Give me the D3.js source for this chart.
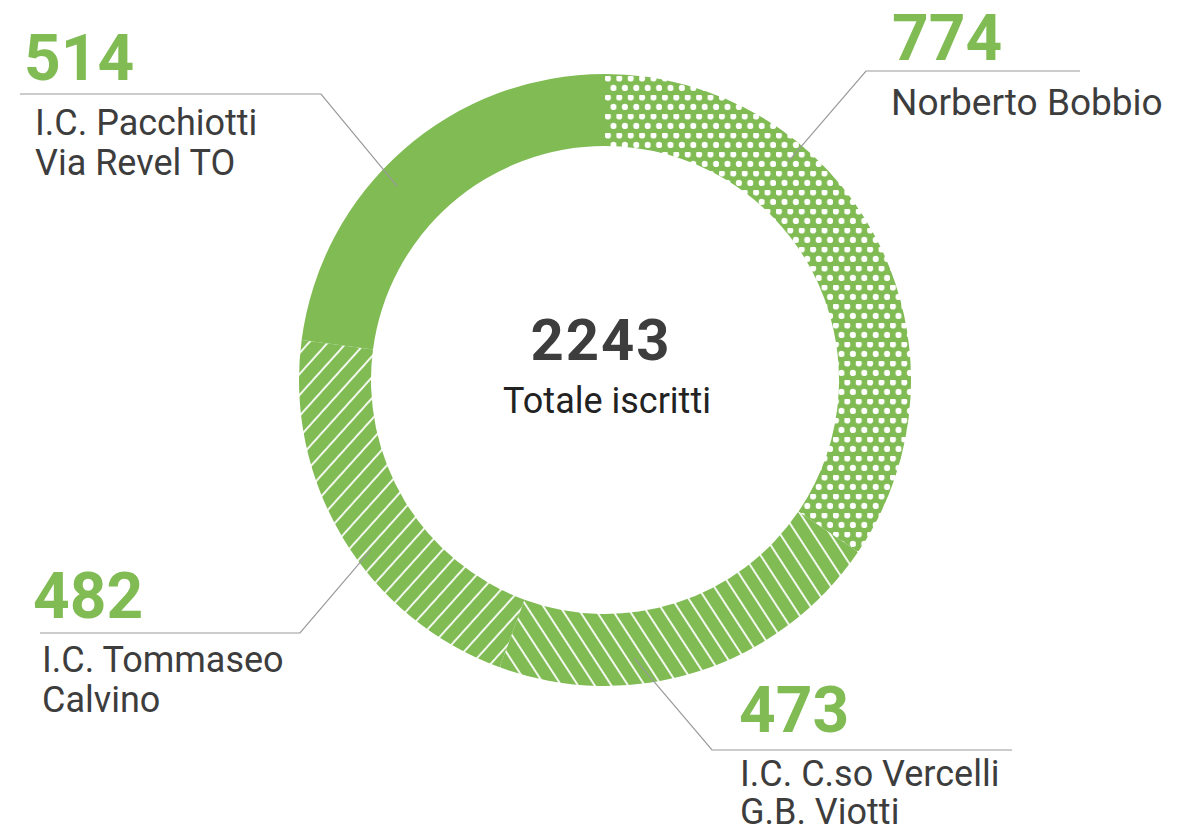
<!DOCTYPE html>
<html>
<head>
<meta charset="utf-8">
<script src="https://cdn.jsdelivr.net/npm/d3@7"></script>
<style>
  body { margin: 0; background: #fff; }
  text { font-family: Roboto, "Noto Sans", sans-serif; }
</style>
</head>
<body>
<script>
// data (clockwise from 12 o'clock)
var schools = ["Norberto Bobbio", "I.C. C.so Vercelli", "I.C. Tommaseo", "I.C. Pacchiotti"];
var labelLines = [
    ["Norberto Bobbio"],
    ["I.C. C.so Vercelli", "G.B. Viotti"],
    ["I.C. Tommaseo", "Calvino"],
    ["I.C. Pacchiotti", "Via Revel TO"]];
var students = [774, 473, 482, 514];
var totalLabel = "Totale iscritti";

var green = "#80bb54";
var textDark = "#3d3d3d";
var fills = ["url(#dots)", "url(#hatchBack)", "url(#hatchFwd)", green];

// label placement: number position, elbow of the leader line, where the line ends
var layout = [
    { nx: 892, ny: 60,  tx: 891, ty: 115, lh: 40, x0: 1080, elbow: [866, 71],  endAngle: 40,  endR: 285, fs: 37 },
    { nx: 739, ny: 732, tx: 740, ty: 786, lh: 38, x0: 1012, elbow: [712, 750], endAngle: 174, endR: 280, fs: 36 },
    { nx: 33,  ny: 618, tx: 42,  ty: 672, lh: 40, x0: 40,   elbow: [300, 633], endAngle: 234, endR: 290, fs: 36 },
    { nx: 24,  ny: 80,  tx: 35,  ty: 135, lh: 40, x0: 20,   elbow: [321, 94],  endAngle: 313, endR: 284, fs: 36 }];

var width = 1199, height = 834;
var cx = 605, cy = 380, outerR = 306, innerR = 234;

var svg = d3.select("body").append("svg")
    .attr("width", width)
    .attr("height", height);

var defs = svg.append("defs");

// dotted pattern
var dots = defs.append("pattern")
    .attr("id", "dots")
    .attr("patternUnits", "userSpaceOnUse")
    .attr("width", 11.4)
    .attr("height", 19);
dots.append("rect").attr("width", 11.4).attr("height", 19).attr("fill", green);
dots.append("circle").attr("cx", 2.85).attr("cy", 2.4).attr("r", 3.1).attr("fill", "#fff");
dots.append("circle").attr("cx", 8.55).attr("cy", 11.9).attr("r", 3.1).attr("fill", "#fff");

// hatched patterns
function hatch(id, angle) {
    var p = defs.append("pattern")
        .attr("id", id)
        .attr("patternUnits", "userSpaceOnUse")
        .attr("width", 14)
        .attr("height", 14)
        .attr("patternTransform", "rotate(" + angle + ")");
    p.append("rect").attr("width", 14).attr("height", 14).attr("fill", green);
    p.append("line")
        .attr("x1", 7).attr("y1", 0).attr("x2", 7).attr("y2", 14)
        .attr("stroke", "#fff")
        .attr("stroke-width", 1.8);
}
hatch("hatchBack", -33);
hatch("hatchFwd", 42);

var pie = d3.pie().sort(null).value(function (d) { return d; });
var arc = d3.arc().innerRadius(innerR).outerRadius(outerR);

var ring = svg.append("g")
    .attr("transform", "translate(" + cx + "," + cy + ")");

ring.selectAll("path")
    .data(pie(students))
    .enter()
    .append("path")
    .attr("d", arc)
    .attr("fill", function (d, i) { return fills[i]; });

// leader lines
var leaders = svg.append("g")
    .attr("fill", "none")
    .attr("stroke", "#9a9a9a")
    .attr("stroke-width", 1.2);

layout.forEach(function (l) {
    var a = l.endAngle * Math.PI / 180;
    var end = [cx + l.endR * Math.sin(a), cy - l.endR * Math.cos(a)];
    leaders.append("path")
        .attr("d", d3.line()([[l.x0, l.elbow[1]], l.elbow, end]));
});

// numbers and names
var labels = svg.selectAll("g.label")
    .data(students)
    .enter()
    .append("g")
    .attr("class", "label");

labels.append("text")
    .attr("x", function (d, i) { return layout[i].nx; })
    .attr("y", function (d, i) { return layout[i].ny; })
    .attr("font-size", "64px")
    .attr("font-weight", 700)
    .attr("fill", green)
    .text(function (d) { return d; });

labels.each(function (d, i) {
    var t = d3.select(this).append("text")
        .attr("x", layout[i].tx)
        .attr("y", layout[i].ty)
        .attr("font-size", layout[i].fs + "px")
        .attr("fill", textDark);
    t.selectAll("tspan")
        .data(labelLines[i])
        .enter()
        .append("tspan")
        .attr("x", layout[i].tx)
        .attr("dy", function (s, j) { return j === 0 ? 0 : layout[i].lh; })
        .text(function (s) { return s; });
});

// total in the middle
svg.append("text")
    .attr("x", 601)
    .attr("y", 360)
    .attr("text-anchor", "middle")
    .attr("font-size", "58px")
    .attr("font-weight", 700)
    .attr("letter-spacing", "2px")
    .attr("fill", textDark)
    .text(d3.sum(students));

svg.append("text")
    .attr("x", 607)
    .attr("y", 413)
    .attr("text-anchor", "middle")
    .attr("font-size", "36px")
    .attr("fill", "#222")
    .text(totalLabel);
</script>
</body>
</html>
